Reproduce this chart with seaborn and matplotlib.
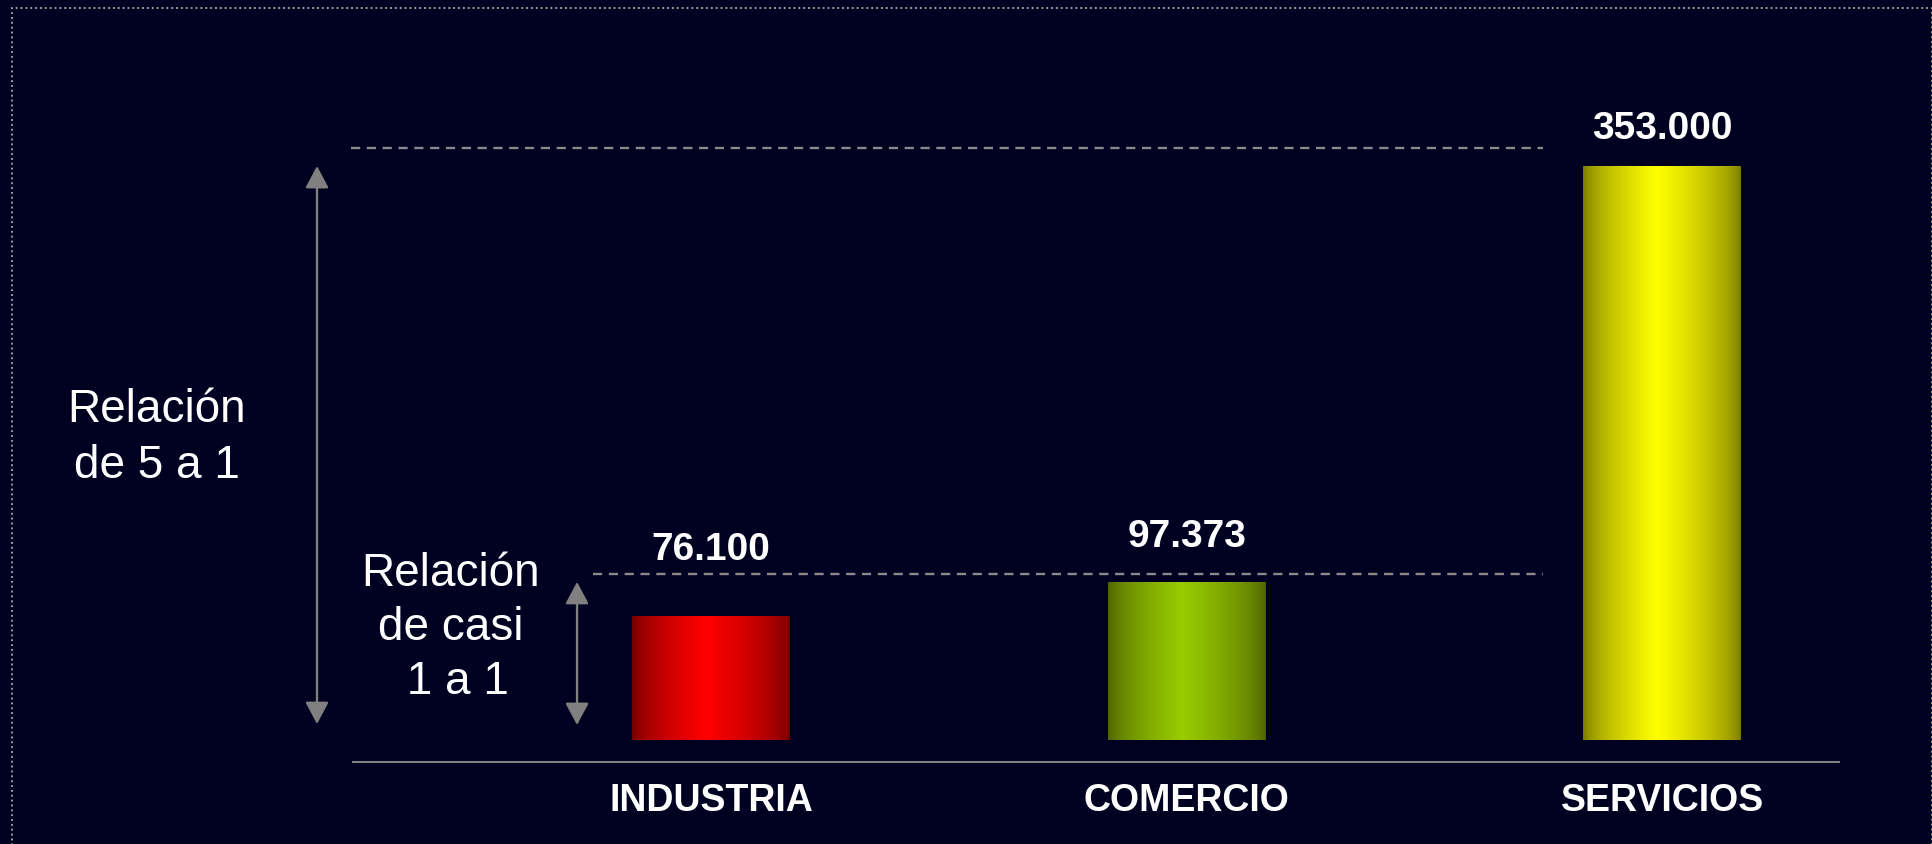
import numpy as np
import matplotlib
matplotlib.use("Agg")
import matplotlib.pyplot as plt
import matplotlib.colors as mcolors
from matplotlib.patches import Rectangle
import seaborn as sns

# datos
categorias = ['INDUSTRIA', 'COMERCIO', 'SERVICIOS']
empleos = [76100, 97373, 353000]

# colores de cada barra: borde oscuro y centro brillante
color_borde = ['#6e0000', '#4a5e00', '#767600']
color_centro = ['#ff0000', '#99cc00', '#ffff00']

fondo = '#000020'
gris = '#808080'

sns.set_style("white")
plt.rcParams['font.family'] = ['Liberation Sans', 'DejaVu Sans']

fig = plt.figure(figsize=(19.33, 8.44), dpi=100, facecolor=fondo)
ax = fig.add_axes([0.1826, 0.0972, 0.7688, 0.9028])
ax.set_facecolor(fondo)

sns.barplot(x=categorias, y=empleos, hue=categorias, palette=color_centro,
            legend=False, width=0.332, ax=ax)

# degradado horizontal dentro de cada barra
xs = np.linspace(0, 1, 300)
perfil = np.where(xs < 0.47, xs / 0.47, (1 - xs) / 0.53)
perfil = np.clip(perfil, 0, 1) ** 0.6
for barra, c0, c1 in zip(ax.patches, color_borde, color_centro):
    a = np.array(mcolors.to_rgb(c0))
    b = np.array(mcolors.to_rgb(c1))
    img = a[None, :] + perfil[:, None] * (b - a)[None, :]
    img = img[None, :, :]
    x0, w, h = barra.get_x(), barra.get_width(), barra.get_height()
    im = ax.imshow(img, extent=[x0, x0 + w, 0, h], aspect='auto',
                   interpolation='bilinear', zorder=barra.get_zorder())
    im.set_clip_path(barra)
    barra.set_facecolor('none')
    barra.set_edgecolor('none')

ax.set_xlim(-0.753, 2.372)
ax.set_ylim(-13530, 455100)

# etiquetas de valor
offsets = [48, 32, 27]
for i, v in enumerate(empleos):
    ax.annotate(f"{v:,}".replace(",", "."), (i, v), xytext=(0, offsets[i]),
                textcoords='offset points', ha='center', va='center',
                fontsize=28, fontweight='bold', color='white')

# lineas de referencia punteadas
ax.plot([-0.757, 1.75], [364100, 364100], color='#8a8a8a', lw=1.7,
        dashes=(3.9, 2.8), clip_on=False)
ax.plot([-0.248, 1.75], [102100, 102100], color='#8a8a8a', lw=1.7,
        dashes=(3.9, 2.8), clip_on=False)

# flechas dobles
flecha = dict(arrowstyle='<|-|>,head_length=1.35,head_width=0.72',
              color=gris, lw=1.7, shrinkA=0, shrinkB=0, mutation_scale=10)
ax.annotate('', xy=(-0.8286, 353000), xytext=(-0.8286, 9800),
            arrowprops=flecha, annotation_clip=False)
ax.annotate('', xy=(-0.2818, 97200), xytext=(-0.2818, 9200),
            arrowprops=flecha, annotation_clip=False)

fig.text(157 / 1933, 1 - 438 / 844, 'Relación\nde 5 a 1', ha='center',
         va='center', ma='center', fontsize=33, color='white', linespacing=1.38)
fig.text(451 / 1933, 1 - 628 / 844, 'Relación\nde casi\n 1 a 1', ha='center',
         va='center', ma='center', fontsize=33, color='white', linespacing=1.29)

# ejes
sns.despine(ax=ax, left=True)
ax.spines['bottom'].set_color(gris)
ax.spines['bottom'].set_linewidth(1.5)
ax.set_yticks([])
ax.set_xlabel('')
ax.tick_params(axis='x', length=0, pad=15, labelsize=27, labelcolor='white')
for t in ax.get_xticklabels():
    t.set_fontweight('bold')

# borde punteado de la diapositiva
fig.patches.append(Rectangle((12 / 1933, -0.1), 1920 / 1933, 1.1 - 8 / 844,
                             transform=fig.transFigure, fill=False,
                             edgecolor='#9a9a9a', lw=1.4, linestyle=(0, (1, 1.5))))

plt.savefig('out.png', dpi=100, facecolor=fondo)
